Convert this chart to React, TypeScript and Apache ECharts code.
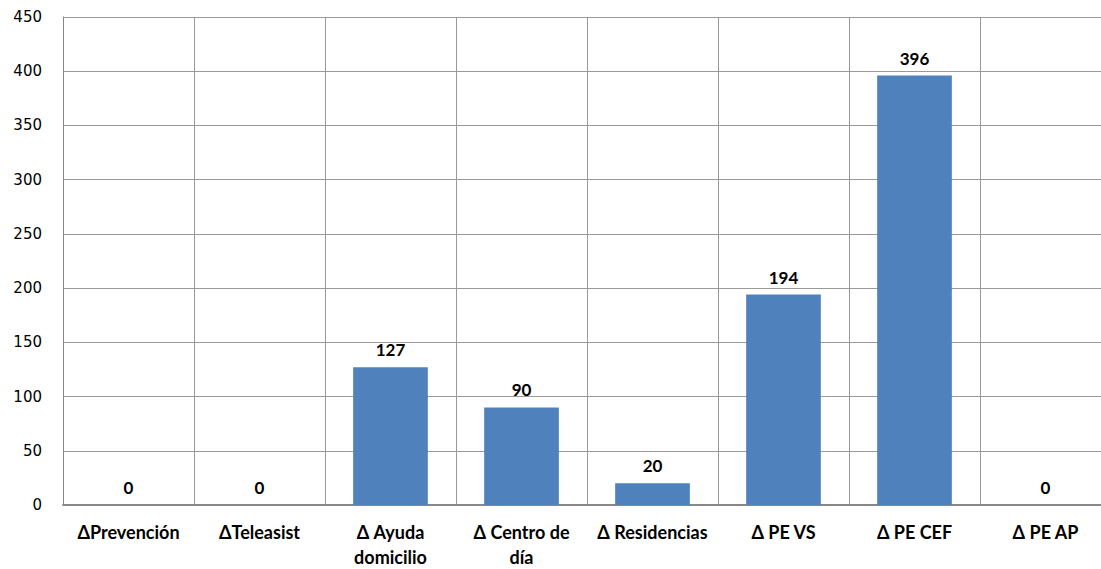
import React, { useEffect, useRef } from "react";
import * as echarts from "echarts";

const categories = [
  "ΔPrevención",
  "ΔTeleasist",
  "Δ Ayuda\ndomicilio",
  "Δ Centro de\ndía",
  "Δ Residencias",
  "Δ PE VS",
  "Δ PE CEF",
  "Δ PE AP",
];
const values = [0, 0, 127, 90, 20, 194, 396, 0];
const yMin = 0;
const yMax = 450;
const yStep = 50;

export default function App() {
  const ref = useRef<HTMLDivElement>(null);
  useEffect(() => {
    document.body.style.margin = "0";
    const chart = echarts.init(ref.current!, null, { renderer: "svg" });
    chart.setOption({
      animation: false,
      grid: { left: 63, top: 17, bottom: 62, right: 10, containLabel: false },
      xAxis: {
        type: "category",
        data: categories,
        axisLine: { show: true, lineStyle: { color: "#888", width: 2 } },
        axisTick: { show: false },
        splitLine: { show: true, lineStyle: { color: "#999", width: 1 } },
        axisLabel: {
          interval: 0,
          color: "#000",
          fontFamily: "Lato",
          fontWeight: "bold",
          fontSize: 18,
          lineHeight: 25,
          margin: 14,
        },
      },
      yAxis: {
        type: "value",
        min: yMin,
        max: yMax,
        interval: yStep,
        axisLine: { show: true, lineStyle: { color: "#888", width: 1 } },
        axisTick: { show: false },
        splitLine: { show: true, lineStyle: { color: "#999", width: 1 } },
        axisLabel: {
          color: "#000",
          fontFamily: "DejaVu Sans",
          fontSize: 15,
          margin: 21,
        },
      },
      series: [
        {
          type: "bar",
          data: values,
          barWidth: "57%",
          itemStyle: { color: "#4F81BD" },
          label: {
            show: true,
            position: "top",
            distance: 9,
            color: "#000",
            fontFamily: "Lato",
            fontWeight: "bold",
            fontSize: 17,
          },
        },
      ],
    });
    return () => chart.dispose();
  }, []);
  return (
    <div style={{ width: 1101, height: 569, overflow: "hidden" }}>
      <div ref={ref} style={{ width: 1121, height: 569 }} />
    </div>
  );
}
